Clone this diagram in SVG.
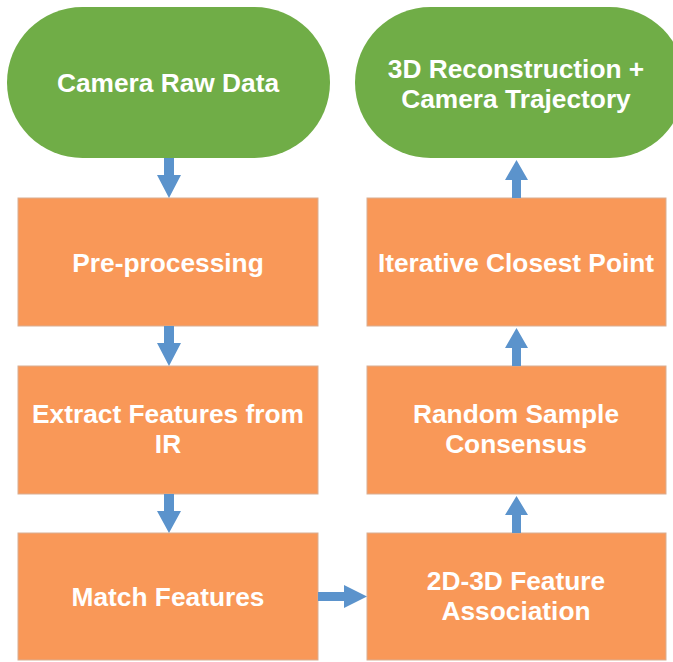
<svg xmlns="http://www.w3.org/2000/svg" width="673" height="662" viewBox="0 0 673 662">
<style>
.term{fill:#70AD47;}
.box{fill:#F99858;stroke:#D9AE92;stroke-width:1;}
.lbl{font-family:"Liberation Sans",Arial,sans-serif;font-weight:bold;font-size:26.3px;fill:#FFFFFF;text-anchor:middle;}
.arr{fill:#5B93CC;}
</style>
<rect width="673" height="662" fill="#FFFFFF"/>
<g id="camera-raw-data">
<rect class="term" x="7" y="7" width="323" height="151" rx="75.5" ry="75.5"/>
<text class="lbl" x="168" y="92">Camera Raw Data</text>
</g>
<g id="reconstruction">
<rect class="term" x="355" y="7" width="330" height="151" rx="75.5" ry="75.5"/>
<text class="lbl" x="516" y="78">3D Reconstruction +</text>
<text class="lbl" x="516" y="108">Camera Trajectory</text>
</g>
<g id="pre-processing">
<rect class="box" x="18" y="198" width="300" height="128"/>
<text class="lbl" x="168" y="272">Pre-processing</text>
</g>
<g id="extract-features">
<rect class="box" x="18" y="366" width="300" height="128"/>
<text class="lbl" x="168" y="423">Extract Features from</text>
<text class="lbl" x="168" y="453">IR</text>
</g>
<g id="match-features">
<rect class="box" x="18" y="533" width="300" height="127"/>
<text class="lbl" x="168" y="606">Match Features</text>
</g>
<g id="feature-association">
<rect class="box" x="367" y="533" width="299" height="127"/>
<text class="lbl" x="516" y="590">2D-3D Feature</text>
<text class="lbl" x="516" y="620">Association</text>
</g>
<g id="ransac">
<rect class="box" x="367" y="366" width="299" height="128"/>
<text class="lbl" x="516" y="423">Random Sample</text>
<text class="lbl" x="516" y="453">Consensus</text>
</g>
<g id="icp">
<rect class="box" x="367" y="198" width="299" height="128"/>
<text class="lbl" x="516" y="272">Iterative Closest Point</text>
</g>
<g id="connectors">
<path class="arr" d="M164,158 H174 V175 H181 L169,198 L157,175 H164 Z"/>
<path class="arr" d="M164,326 H174 V343 H181 L169,366 L157,343 H164 Z"/>
<path class="arr" d="M164,494 H174 V511 H181 L169,533 L157,511 H164 Z"/>
<path class="arr" d="M318,592 V601 H344 V608 L367,596.5 L344,585 V592 Z"/>
<path class="arr" d="M512,533 H521 V515 H528 L516.5,496 L505,515 H512 Z"/>
<path class="arr" d="M512,366 H521 V348 H528 L516.5,328 L505,348 H512 Z"/>
<path class="arr" d="M512,198 H521 V180 H528 L516.5,160 L505,180 H512 Z"/>
</g>
</svg>
